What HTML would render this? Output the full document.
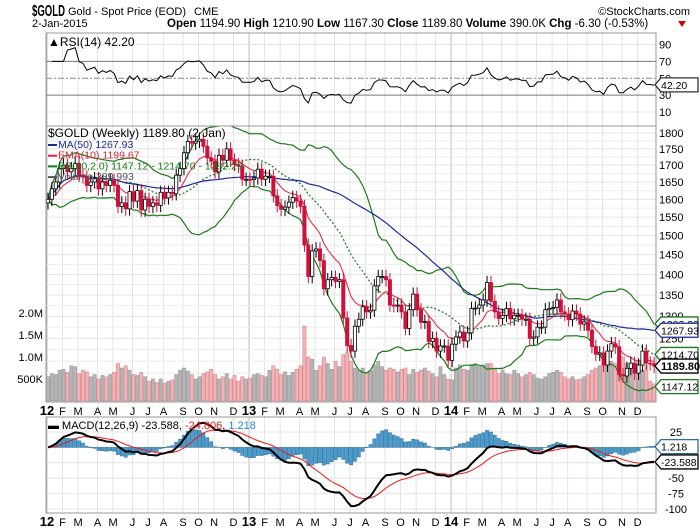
<!DOCTYPE html>
<html><head><meta charset="utf-8"><style>
body{margin:0;background:#fff;}
svg{display:block;font-family:"Liberation Sans",sans-serif;}
</style></head><body>
<svg id="c" width="700" height="530" xmlns="http://www.w3.org/2000/svg"></svg>
<script>
const closes=[1600,1630,1650,1690,1700,1680,1690,1705,1670,1665,1640,1650,1660,1630,1650,1640,1655,1640,1580,1590,1573,1622,1595,1625,1570,1600,1580,1590,1583,1620,1604,1620,1616,1670,1690,1738,1773,1768,1774,1780,1758,1722,1712,1680,1730,1715,1750,1715,1702,1697,1658,1658,
1657,1662,1688,1658,1667,1667,1610,1582,1572,1578,1592,1605,1595,1580,1475,1395,1460,1465,1435,1365,1387,1393,1383,1387,1296,1234,1222,1277,1293,1322,1310,1314,1372,1395,1395,1387,1326,1325,1326,1310,1272,1315,1352,1315,1286,1288,1243,1250,1222,1233,1233,1202,
1237,1253,1264,1244,1262,1318,1319,1326,1338,1380,1335,1310,1295,1302,1318,1294,1302,1302,1293,1293,1250,1253,1275,1275,1315,1318,1320,1338,1310,1305,1292,1312,1305,1282,1287,1268,1232,1215,1218,1192,1222,1238,1231,1172,1169,1185,1196,1175,1192,1222,1196,1195,1189.8];
const volumes=[0.55,0.62,0.6,0.7,0.72,0.65,0.8,0.78,0.62,0.7,0.66,0.55,0.6,0.5,0.58,0.55,0.6,0.65,0.85,0.75,0.8,0.7,0.6,0.58,0.65,0.55,0.45,0.5,0.42,0.5,0.4,0.45,0.48,0.6,0.7,0.75,0.68,0.6,0.5,0.55,0.62,0.66,0.72,0.6,0.5,0.55,0.62,0.5,0.58,0.45,0.55,0.5,
0.52,0.6,0.62,0.58,0.55,0.7,0.8,0.72,0.6,0.66,0.58,0.65,0.72,0.8,1.7,1.0,0.95,0.7,0.8,1.0,0.85,0.72,0.9,0.78,1.05,1.1,0.9,0.75,0.7,0.75,0.65,0.68,0.82,0.9,0.78,0.7,0.75,0.72,0.66,0.72,0.75,0.6,0.72,0.65,0.7,0.75,0.68,0.62,0.55,0.78,0.6,0.5,
0.48,0.75,0.82,0.72,0.7,0.8,0.85,0.78,0.82,0.85,0.85,0.75,0.62,0.7,0.62,0.6,0.7,0.62,0.55,0.6,0.65,0.6,0.52,0.5,0.55,0.62,0.65,0.7,0.65,0.55,0.5,0.55,0.48,0.5,0.55,0.6,0.7,0.75,0.8,0.82,0.85,0.9,0.85,0.95,1.0,0.85,0.75,0.82,0.9,0.7,0.8,0.45,0.39];
const monthLabels=["12","F","M","A","M","J","J","A","S","O","N","D","13","F","M","A","M","J","J","A","S","O","N","D","14","F","M","A","M","J","J","A","S","O","N","D"];
const monthWeeks=[4,4,5,4,5,4,4,5,4,4,5,4, 4,4,5,4,5,4,4,5,4,4,5,4, 4,4,5,4,5,4,4,5,4,5,4,5];
const priceTicks=[1800,1750,1700,1650,1600,1550,1500,1450,1400,1350,1300,1250];
const volTicks=[[2,"2.0M"],[1.5,"1.5M"],[1,"1.0M"],[0.5,"500K"]];
const rsiTicks=[90,70,50,30,10];
const macdTicks=[25,-50,-75,-100];

const S=document.getElementById('c');const NS='http://www.w3.org/2000/svg';
function el(t,a,p){const e=document.createElementNS(NS,t);for(const k in a)e.setAttribute(k,a[k]);(p||S).appendChild(e);return e;}
const L=46,R=656,N=closes.length,DX=(R-L)/N;
const X=i=>L+2+i*DX;
const PY=p=>133+(Math.log(1800)-Math.log(p))*563;
const VY=v=>401-v*44;
const RY=r=>120.5-r*0.845;
const MY=m=>447.4-m*0.616;
const panels=[[33,126],[126,402],[417,513]];
let wk=0;const mStart=[];
monthWeeks.forEach(w=>{mStart.push(wk);wk+=w;});
panels.forEach(([t,b])=>{
 mStart.forEach((s,mi)=>{const x=X(s)-1;const g=el('line',{x1:x,x2:x,y1:t,y2:b,stroke:mi%12==0?'#bbb':'#e4e4e4','stroke-width':1});
 });
});
[1775,1725,1675,1625,1575,1525,1475,1425,1375,1325,1275,1225,1200,1175,1150].forEach(p=>el('line',{x1:L,x2:R,y1:PY(p),y2:PY(p),stroke:'#eee'}));
priceTicks.forEach(p=>{const y=PY(p);el('line',{x1:L,x2:R,y1:y,y2:y,stroke:'#e4e4e4'});
 const t=el('text',{x:R+3,y:y+4,'font-size':11,fill:'#000'});t.textContent=p;});
volTicks.forEach(([v,l])=>{const t=el('text',{x:L-3,y:VY(v)+4,'font-size':11,'text-anchor':'end'});t.textContent=l;});
rsiTicks.forEach(r=>{const y=RY(r);el('line',{x1:L,x2:R,y1:y,y2:y,stroke:(r==70||r==30)?'#777':(r==50?'#888':'#e4e4e4'),'stroke-dasharray':r==50?'6,2,2,2':'none'});
 const t=el('text',{x:R+3,y:y+4,'font-size':11});t.textContent=r;});
[0,-25].forEach(m=>el('line',{x1:L,x2:R,y1:MY(m),y2:MY(m),stroke:'#e4e4e4'}));
macdTicks.forEach(m=>{const y=MY(m);el('line',{x1:L,x2:R,y1:y,y2:y,stroke:'#e4e4e4'});
 const t=el('text',{x:R+20,y:y+4,'font-size':11,'text-anchor':'middle'});t.textContent=m;});
[405,516].forEach(y0=>{mStart.forEach((s,mi)=>{const t=el('text',{x:X(s)-1,y:y0+10,'font-size':mi%12==0?13:11,'font-weight':mi%12==0?'bold':'normal','text-anchor':'middle'});t.textContent=monthLabels[mi];
 });});
function sma(a,n){return a.map((v,i)=>{const s=a.slice(Math.max(0,i-n+1),i+1);return s.reduce((x,y)=>x+y,0)/s.length;});}
function ema(a,n){const k=2/(n+1);let e=a[0];return a.map(v=>e=v*k+e*(1-k));}
function sd(a,n){return a.map((v,i)=>{const s=a.slice(Math.max(0,i-n+1),i+1);const m=s.reduce((x,y)=>x+y,0)/s.length;return Math.sqrt(s.reduce((x,y)=>x+(y-m)**2,0)/s.length);});}
const ma50=sma(closes,50),e10=ema(closes,10),mid=sma(closes,20),dv=sd(closes,20);
const up=mid.map((m,i)=>m+2*dv[i]),lo=mid.map((m,i)=>m-2*dv[i]);
function path(arr,fy,attrs,name,start,parent){let d='';arr.forEach((v,i)=>{if(i<(start||0))return;d+=(d?'L':'M')+X(i).toFixed(1)+','+fy(v).toFixed(1);});const p=el('path',Object.assign({d:d,fill:'none'},attrs),parent);return p;}
const cp=el('clipPath',{id:'mc'});el('rect',{x:L,y:126,width:R-L,height:276},cp);
const gMain=el('g',{'clip-path':'url(#mc)'});
closes.forEach((c,i)=>{const o=i?closes[i-1]:1565;const dn=c<o;const y=VY(volumes[i]);
 const b=el('rect',{x:X(i)-1.6,y:y,width:3.2,height:401-y,fill:dn?'#f0b4b8':'#b5b5b5',stroke:dn?'#e08088':'#999','stroke-width':0.6},gMain);
 });
path(up,PY,{stroke:'#1a7a1a','stroke-width':1.2},'bb-upper',0,gMain);
path(lo,PY,{stroke:'#1a7a1a','stroke-width':1.2},'bb-lower',0,gMain);
path(mid,PY,{stroke:'#1a7a1a','stroke-width':1.2,'stroke-dasharray':'2,2'},'bb-middle',0,gMain);
path(ma50,PY,{stroke:'#1a2a9a','stroke-width':1.2},'ma50-line',0,gMain);
path(e10,PY,{stroke:'#e0203a','stroke-width':1},'ema10-line',0,gMain);
closes.forEach((c,i)=>{const o=i?closes[i-1]:1590;const dn=c<o;const hi=Math.max(o,c),lw=Math.min(o,c);const x=X(i);
 const g=el('g',{},gMain);
 el('line',{x1:x,x2:x,y1:PY(hi*1.012),y2:PY(lw*0.988),stroke:dn?'#d0103a':'#000','stroke-width':1},g);
 el('rect',{x:x-1.6,y:PY(hi),width:3.2,height:Math.max(1,PY(lw)-PY(hi)),fill:dn?'#d0103a':'#fff',stroke:dn?'#d0103a':'#000','stroke-width':0.8},g);});
const rsi=[];let ag=0,al=0;closes.forEach((c,i)=>{if(i==0){rsi.push(50);return;}const d=c-closes[i-1];const g=Math.max(d,0),l=Math.max(-d,0);
 if(i<=14){ag+=g/14;al+=l/14;}else{ag=(ag*13+g)/14;al=(al*13+l)/14;} rsi.push(al==0?70:100-100/(1+ag/al));});
path(rsi,RY,{stroke:'#000','stroke-width':1},'rsi-line',1);
const e12=ema(closes,12),e26=ema(closes,26),macd=e12.map((v,i)=>v-e26[i]),sig=ema(macd,9),hist=macd.map((v,i)=>v-sig[i]);
hist.forEach((h,i)=>{const y0=MY(0),y1=MY(h*1.4);const r=el('rect',{x:X(i)-1.6,y:Math.min(y0,y1),width:3.2,height:Math.abs(y1-y0),fill:'#4a9ccc',stroke:'#2a6c9c','stroke-width':0.5});
 });
path(sig,MY,{stroke:'#f01818','stroke-width':1},'macd-signal-line');
path(macd,MY,{stroke:'#000','stroke-width':2},'macd-line');
panels.forEach(([t,b])=>{const r=el('rect',{x:L,y:t,width:R-L,height:b-t,fill:'none',stroke:'#999'});});
function tag(y,txt,col,bold,name){const g=el('g',{});
 el('path',{d:`M${R-1},${y} L${R+5},${y-7} H${R+42} V${y+7} H${R+5} Z`,fill:'#fff',stroke:col,'stroke-width':1.3},g);
 const t=el('text',{x:R+5,y:y+4,'font-size':bold?11:10.5,'font-weight':bold?'bold':'normal',fill:'#000'},g);t.textContent=txt;}
tag(PY(1282.29),'1282.29','#1a7a1a',0,'bb-upper-tag');tag(PY(1267.93),'1267.93','#1a2a9a',0,'ma50-tag');
tag(PY(1214.7),'1214.70','#1a7a1a',0,'bb-middle-tag');tag(PY(1189.8),'1189.80','#000',1,'close-price-tag');
tag(PY(1147.12),'1147.12','#1a7a1a',0,'bb-lower-tag');tag(RY(42.2),'42.20','#333',0,'rsi-value-tag');
tag(MY(1.218),'1.218','#2a6c9c',0,'macd-hist-tag');tag(MY(-23.588),'-23.588','#000',0,'macd-value-tag');
function txt(x,y,s,attrs,name){const t=el('text',Object.assign({x:x,y:y,'font-size':11},attrs));t.textContent=s;return t;}
txt(32,16,'$GOLD',{'font-size':16,'font-weight':'bold',textLength:33,lengthAdjust:'spacingAndGlyphs'},'ticker-symbol');
txt(68,15,'Gold - Spot Price (EOD)',{},'instrument-name');txt(194,15,'CME',{},'exchange');
txt(690,15,'©StockCharts.com',{'text-anchor':'end'},'watermark');
txt(32,27,'2-Jan-2015',{},'date-label');
const hd=el('text',{x:167,y:27,'font-size':11.5});
hd.innerHTML='<tspan font-weight="bold">Open</tspan> 1194.90 <tspan font-weight="bold">High</tspan> 1210.90 <tspan font-weight="bold">Low</tspan> 1167.30 <tspan font-weight="bold">Close</tspan> 1189.80 <tspan font-weight="bold">Volume</tspan> 390.0K <tspan font-weight="bold">Chg</tspan> -6.30 (-0.53%)';
el('path',{d:'M678,21 L686,21 L682,27 Z',fill:'#c00'});
txt(48,46,'▲RSI(14) 42.20',{'font-size':12},'rsi-legend');
txt(48,137,'$GOLD (Weekly) 1189.80 (2 Jan)',{'font-size':12},'price-legend');
const lg=[['MA(50) 1267.93','#1a2a9a','ma50-legend'],['EMA(10) 1199.67','#e0203a','ema10-legend'],['BB(20,2.0) 1147.12 - 1214.70 - 1282.29','#1a7a1a','bb-legend'],['Volume 389,993','#555','volume-legend']];
lg.forEach(([s,c,n],k)=>{const y=148+k*10.7;el('rect',{x:48,y:y-4,width:9,height:2,fill:c});txt(58,y,s,{'font-size':10.5,fill:c},n);});
const ml=el('text',{x:48,y:429,'font-size':11});
ml.innerHTML='▬ MACD(12,26,9) -23.588, <tspan fill="#f01818">-24.806</tspan>, <tspan fill="#2a8acc">1.218</tspan>';
</script>
</body></html>
